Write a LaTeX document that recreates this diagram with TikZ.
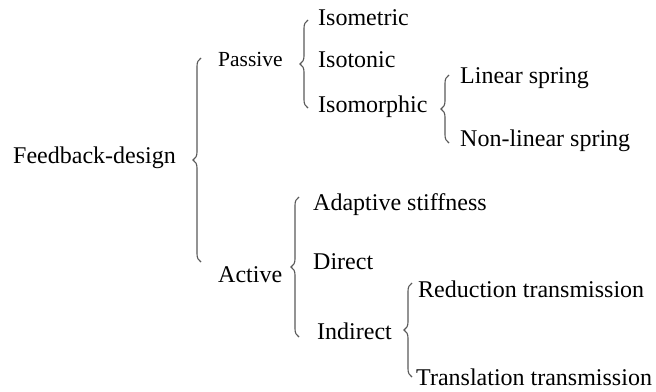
\documentclass[tikz,border=0pt]{standalone}
\usepackage{fontspec}
\setmainfont{Liberation Serif}
\usetikzlibrary{decorations.pathreplacing}

\tikzstyle{lbl} = [anchor=base west, inner sep=0pt, font=\fontsize{24}{28}\selectfont]
\tikzstyle{lbls} = [lbl, font=\fontsize{21.5}{26}\selectfont]
\tikzstyle{br} = [draw=black!65, line width=1.1pt, decorate, decoration={brace, amplitude=8pt}]

\begin{document}
\begin{tikzpicture}[x=1pt, y=-1pt]
    \useasboundingbox (0,0) rectangle (656,391);
    \node[lbl] (FD) at (13, 163) {Feedback-design};
    \node[lbls] (PA) at (218, 66) {Passive};
    \node[lbl] (AC) at (218, 282) {Active};
    \node[lbl] (IMT) at (318, 25) {Isometric};
    \node[lbl] (ITN) at (318, 67) {Isotonic};
    \node[lbl] (IMP) at (318, 112) {Isomorphic};
    \node[lbl] (LS) at (460, 83) {Linear spring};
    \node[lbl] (NLS) at (460, 146) {Non-linear spring};
    \node[lbl] (AS) at (313, 210) {Adaptive stiffness};
    \node[lbl] (DI) at (313, 269) {Direct};
    \node[lbl] (IN) at (317, 339) {Indirect};
    \node[lbl] (RT) at (418, 297) {Reduction transmission};
    \node[lbl] (TT) at (416, 385) {Translation transmission};
    \coordinate (B1t) at (201, 58);
    \coordinate (B1b) at (201, 262);
    \coordinate (B2t) at (308, 20);
    \coordinate (B2b) at (308, 108);
    \coordinate (B3t) at (449, 75);
    \coordinate (B3b) at (449, 143);
    \coordinate (B4t) at (299, 197);
    \coordinate (B4b) at (299, 337);
    \coordinate (B5t) at (412, 283);
    \coordinate (B5b) at (412, 377);
    \draw[br] (B1b) -- (B1t);
    \draw[br] (B2b) -- (B2t);
    \draw[br] (B3b) -- (B3t);
    \draw[br] (B4b) -- (B4t);
    \draw[br] (B5b) -- (B5t);
  \end{tikzpicture}
\end{document}
